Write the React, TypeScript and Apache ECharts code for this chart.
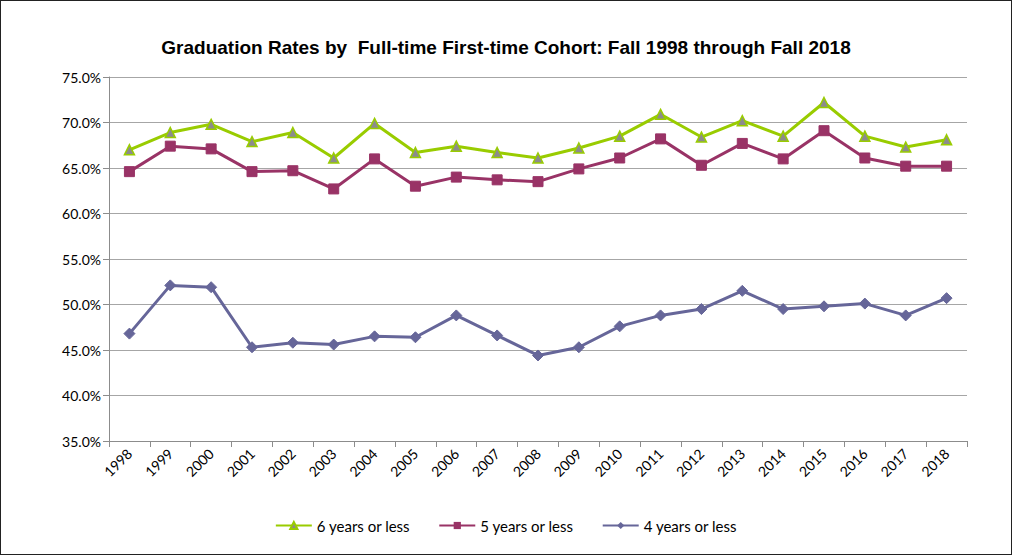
import React, { useEffect, useRef } from "react";
import * as echarts from "echarts";

const years = ["1998","1999","2000","2001","2002","2003","2004","2005","2006","2007","2008","2009","2010","2011","2012","2013","2014","2015","2016","2017","2018"];
const sixYears = [67.0,68.9,69.8,67.9,68.9,66.1,69.9,66.7,67.4,66.7,66.1,67.2,68.5,70.9,68.4,70.2,68.5,72.2,68.5,67.3,68.1];
const fiveYears = [64.6,67.4,67.1,64.6,64.7,62.7,66.0,63.0,64.0,63.7,63.5,64.9,66.1,68.2,65.3,67.7,66.0,69.1,66.1,65.2,65.2];
const fourYears = [46.8,52.1,51.9,45.3,45.8,45.6,46.5,46.4,48.8,46.6,44.4,45.3,47.6,48.8,49.5,51.5,49.5,49.8,50.1,48.8,50.7];
const titleText = "Graduation Rates by  Full-time First-time Cohort: Fall 1998 through Fall 2018";

export default function App() {
  const ref = useRef<HTMLDivElement>(null);
  useEffect(() => {
    if (!ref.current) return;
    const chart = echarts.init(ref.current, undefined, { renderer: "svg" });
    const font = "Lato, 'Open Sans', sans-serif";
    chart.setOption({
      animation: false,
      backgroundColor: "#ffffff",
      title: {
        text: titleText,
        left: "center",
        top: 32,
        textStyle: { fontFamily: "'Liberation Sans Narrow', 'Liberation Sans', Arial, sans-serif", fontWeight: "bold", fontSize: 19, color: "#000" },
      },
      legend: {
        bottom: 16,
        left: "center",
        itemWidth: 36,
        itemHeight: 9,
        itemGap: 28,
        textStyle: { fontFamily: font, fontSize: 15, color: "#000" },
        data: ["6 years or less", "5 years or less", "4 years or less"],
      },
      grid: { left: 108, right: 44, top: 76, bottom: 113 },
      xAxis: {
        type: "category",
        data: years,
        boundaryGap: true,
        axisLine: { lineStyle: { color: "#8c8c8c", width: 1 } },
        axisTick: { show: true, length: 6, lineStyle: { color: "#8c8c8c" } },
        axisLabel: { rotate: 45, fontFamily: font, fontSize: 14, color: "#000", margin: 10, interval: 0 },
      },
      yAxis: {
        type: "value",
        min: 35,
        max: 75,
        interval: 5,
        axisLine: { show: true, lineStyle: { color: "#8c8c8c" } },
        axisTick: { show: true, length: 6, lineStyle: { color: "#8c8c8c" } },
        axisLabel: { formatter: (v: number) => v.toFixed(1) + "%", fontFamily: font, fontSize: 14, color: "#000", margin: 8 },
        splitLine: { lineStyle: { color: "#a6a6a6", width: 1 } },
      },
      series: [
        {
          name: "6 years or less",
          type: "line",
          data: sixYears,
          symbol: "triangle",
          symbolSize: 10,
          lineStyle: { color: "#99cc00", width: 3 },
          itemStyle: { color: "#8c8c8c", borderColor: "#99cc00", borderWidth: 1.5 },
        },
        {
          name: "5 years or less",
          type: "line",
          data: fiveYears,
          symbol: "rect",
          symbolSize: 10,
          lineStyle: { color: "#993366", width: 3 },
          itemStyle: { color: "#993366", borderColor: "#993366" },
        },
        {
          name: "4 years or less",
          type: "line",
          data: fourYears,
          symbol: "diamond",
          symbolSize: 11,
          lineStyle: { color: "#666699", width: 3 },
          itemStyle: { color: "#666699", borderColor: "#666699" },
        },
      ],
    });
    return () => chart.dispose();
  }, []);
  return (
    <div style={{ position: "fixed", left: 0, top: 0, width: 1012, height: 555, boxSizing: "border-box", border: "1.5px solid #222", background: "#fff" }}>
      <div ref={ref} style={{ width: "100%", height: "100%" }} />
    </div>
  );
}
